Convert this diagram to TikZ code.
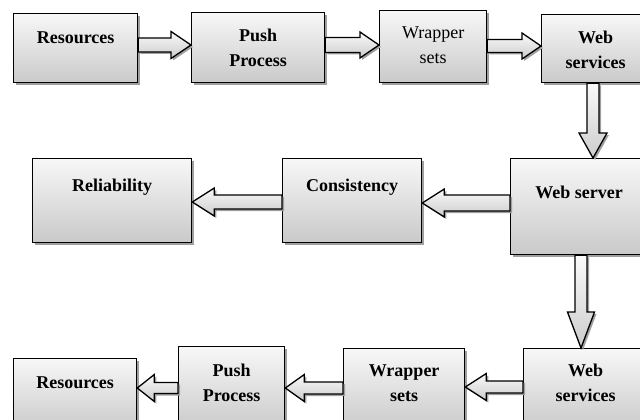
\documentclass[tikz,border=0pt]{standalone}
\usepackage{fontspec}
\setmainfont{Liberation Serif}
\usetikzlibrary{shadows,calc}
\tikzset{
  box/.style={draw=black, line width=1.3pt, rectangle, inner sep=0pt, anchor=north west,
    top color=gray!6, bottom color=gray!42,
    drop shadow={shadow xshift=2.2pt, shadow yshift=-2.2pt, fill=gray!75, opacity=1}},
  txt/.style={font=\fontsize{18}{25}\selectfont\bfseries, align=center, inner sep=0pt},
  txtr/.style={font=\fontsize{18}{25}\selectfont, align=center, inner sep=0pt},
  blockarrow/.style={draw=black, line width=1.3pt, line join=miter,
    top color=gray!4, bottom color=gray!40,
    drop shadow={shadow xshift=2pt, shadow yshift=-2pt, fill=gray!75, opacity=1}}
}
% right-pointing block arrow: from #1.east to #2.west, tip y #3, shaft half #4, head half #5, head length #6
\newcommand\arrR[6]{%
  \path[blockarrow] let \p1=(#1.east), \p2=(#2.west) in
    (\x1,{-(#3-#4)*1pt}) -- ({\x2-#6*1pt},{-(#3-#4)*1pt}) -- ({\x2-#6*1pt},{-(#3-#5)*1pt})
    -- (\x2,{-#3*1pt}) -- ({\x2-#6*1pt},{-(#3+#5)*1pt}) -- ({\x2-#6*1pt},{-(#3+#4)*1pt})
    -- (\x1,{-(#3+#4)*1pt}) -- cycle;}
% left-pointing block arrow: from #1.west to #2.east
\newcommand\arrL[6]{%
  \path[blockarrow] let \p1=(#1.west), \p2=(#2.east) in
    (\x1,{-(#3-#4)*1pt}) -- ({\x2+#6*1pt},{-(#3-#4)*1pt}) -- ({\x2+#6*1pt},{-(#3-#5)*1pt})
    -- (\x2,{-#3*1pt}) -- ({\x2+#6*1pt},{-(#3+#5)*1pt}) -- ({\x2+#6*1pt},{-(#3+#4)*1pt})
    -- (\x1,{-(#3+#4)*1pt}) -- cycle;}
% down-pointing block arrow: from #1.south to #2.north, tip x #3
\newcommand\arrD[6]{%
  \path[blockarrow] let \p1=(#1.south), \p2=(#2.north) in
    ({(#3-#4)*1pt},\y1) -- ({(#3-#4)*1pt},{\y2+#6*1pt}) -- ({(#3-#5)*1pt},{\y2+#6*1pt})
    -- ({#3*1pt},\y2) -- ({(#3+#5)*1pt},{\y2+#6*1pt}) -- ({(#3+#4)*1pt},{\y2+#6*1pt})
    -- ({(#3+#4)*1pt},\y1) -- cycle;}
\begin{document}
\begin{tikzpicture}[x=1pt, y=-1pt]
\useasboundingbox (0,0) rectangle (640,420);
\clip (0,0) rectangle (640,420);
% top row
\node[box, minimum width=124pt, minimum height=69pt,
  label={[txt, yshift=10.5pt]center:Resources}] (t1) at (13,13) {};
\node[box, minimum width=133pt, minimum height=70pt,
  label={[txt, yshift=0pt]center:Push\\Process}] (t2) at (191,12) {};
\node[box, minimum width=107pt, minimum height=72pt,
  label={[txtr, yshift=1pt]center:Wrapper\\sets}] (t3) at (379,10) {};
\node[box, minimum width=108pt, minimum height=68pt,
  label={[txt, yshift=-1.5pt]center:Web\\services}] (t4) at (541,14) {};
% middle row
\node[box, minimum width=159pt, minimum height=84pt,
  label={[txt, yshift=13pt]center:Reliability}] (m1) at (32,158) {};
\node[box, minimum width=139pt, minimum height=84pt,
  label={[txt, yshift=13pt]center:Consistency}] (m2) at (282,158) {};
\node[box, minimum width=137pt, minimum height=96pt,
  label={[txt, yshift=14pt]center:Web server}] (m3) at (510,158) {};
% bottom row
\node[box, minimum width=123pt, minimum height=72pt,
  label={[txt, yshift=12pt]center:Resources}] (b1) at (13,358) {};
\node[box, minimum width=106pt, minimum height=84pt,
  label={[txt, yshift=5.5pt]center:Push\\Process}] (b2) at (178,346) {};
\node[box, minimum width=121pt, minimum height=82pt,
  label={[txt, yshift=6.5pt]center:Wrapper\\sets}] (b3) at (343,348) {};
\node[box, minimum width=124pt, minimum height=82pt,
  label={[txt, yshift=6.5pt]center:Web\\services}] (b4) at (523,348) {};
% block arrows
\arrR{t1}{t2}{45}{7}{13.5}{20}
\arrR{t2}{t3}{45}{7.5}{13}{19}
\arrR{t3}{t4}{46}{6.5}{13}{19}
\arrD{t4}{m3}{593}{6}{14}{25}
\arrL{m3}{m2}{203}{8}{14}{22}
\arrL{m2}{m1}{202}{7}{14}{22}
\arrD{m3}{b4}{581}{6}{13.5}{36}
\arrL{b4}{b3}{387}{6}{13.5}{21}
\arrL{b3}{b2}{388}{6}{13.5}{19}
\arrL{b2}{b1}{388}{5.5}{13.5}{17}
\end{tikzpicture}
\end{document}
